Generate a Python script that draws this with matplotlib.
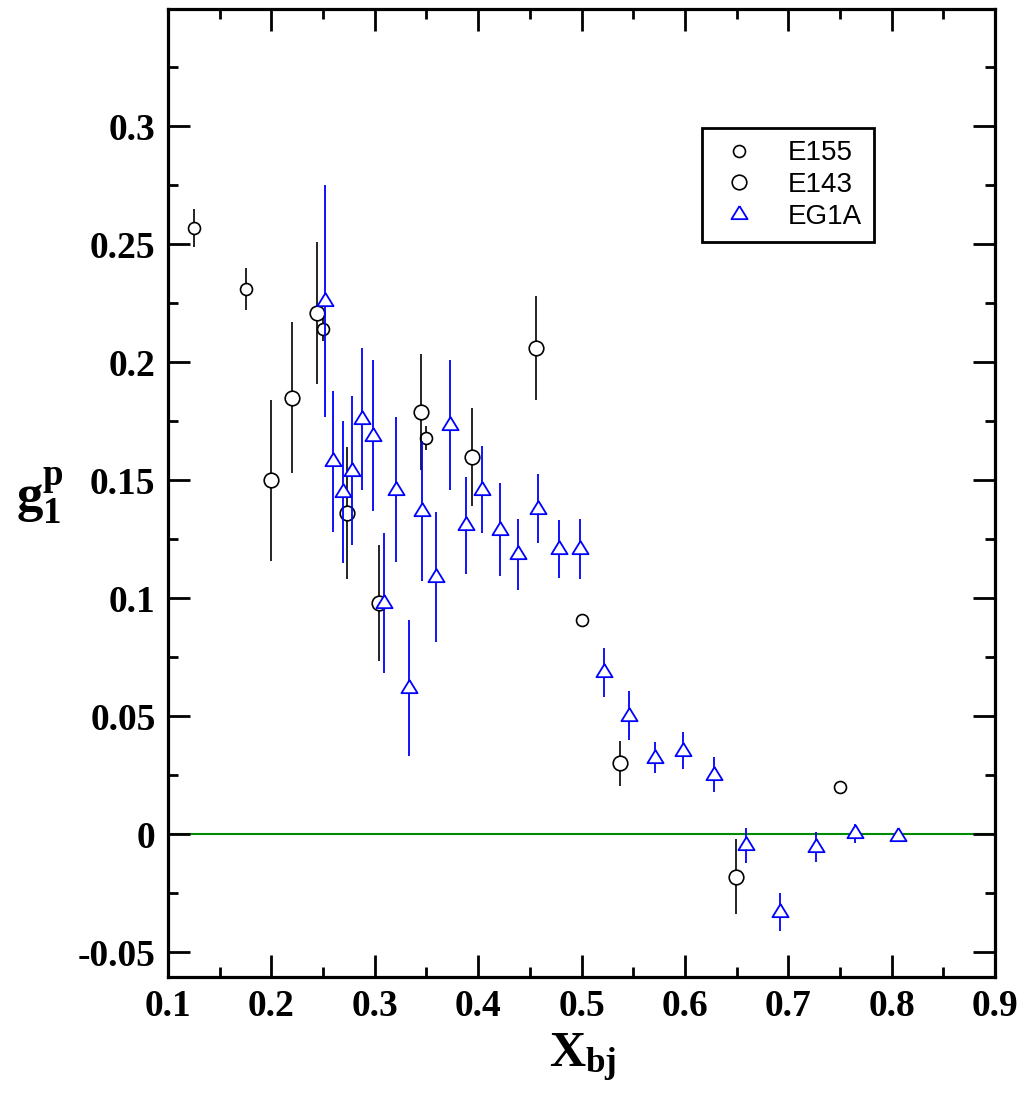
"""
g1p_vs_xbj.py

Proton spin structure function g1 versus Bjorken x, comparing
E155, E143 and EG1A data points with their error bars.
"""

import numpy as np
import matplotlib
matplotlib.use('Agg')
import matplotlib.pyplot as plt
from matplotlib.ticker import MultipleLocator, FuncFormatter

plt.rcParams['mathtext.fontset'] = 'custom'
plt.rcParams['mathtext.bf'] = 'Liberation Serif:bold'
plt.rcParams['mathtext.rm'] = 'Liberation Serif'

# E155
x_e155 = [0.125, 0.175, 0.25, 0.35, 0.50, 0.75]
g1_e155 = [0.257, 0.231, 0.214, 0.168, 0.091, 0.020]
err_e155 = [0.008, 0.009, 0.005, 0.005, 0.002, 0.002]

# E143
x_e143 = [0.200, 0.220, 0.244, 0.273, 0.304, 0.345, 0.394, 0.456, 0.537, 0.649]
g1_e143 = [0.150, 0.185, 0.221, 0.136, 0.098, 0.179, 0.160, 0.206, 0.030, -0.018]
err_e143 = [0.034, 0.032, 0.030, 0.028, 0.0245, 0.0244, 0.0207, 0.022, 0.0096, 0.016]

# EG1A
x_eg1a = [0.252, 0.260, 0.269, 0.278, 0.288, 0.2985, 0.309, 0.321, 0.333, 0.3457,
          0.359, 0.373, 0.388, 0.404, 0.421, 0.439, 0.458, 0.478, 0.499, 0.522,
          0.546, 0.571, 0.5985, 0.628, 0.659, 0.692, 0.727, 0.765, 0.806]
g1_eg1a = [0.226, 0.158, 0.145, 0.154, 0.176, 0.169, 0.098, 0.146, 0.062, 0.137,
           0.109, 0.1735, 0.131, 0.146, 0.129, 0.1186, 0.138, 0.121, 0.121, 0.0687,
           0.0503, 0.0325, 0.0354, 0.0252, -0.0046, -0.0328, -0.0054, 0.0004, -0.0006]
err_eg1a = [0.049, 0.030, 0.030, 0.0316, 0.030, 0.032, 0.0295, 0.0307, 0.029, 0.0296,
            0.0277, 0.0274, 0.0205, 0.0184, 0.0197, 0.0152, 0.0145, 0.0122, 0.0127, 0.0104,
            0.0104, 0.0067, 0.0078, 0.0074, 0.0074, 0.0081, 0.0062, 0.0039, 0.001]

W, H = 1027, 1094
fig = plt.figure(figsize=(W / 100, H / 100), dpi=100)
ax = fig.add_axes([168 / W, 1 - 977 / H, (995 - 168) / W, (977 - 8.5) / H])

ax.axhline(0, color='#008b00', lw=1.5, zorder=1)

# equilateral triangle like the xmgrace symbol
tri = [(0, 1), (-0.95, -0.55), (0.95, -0.55), (0, 1)]

ax.errorbar(x_e155, g1_e155, yerr=err_e155, fmt='none', ecolor='black',
            elinewidth=1.2, capsize=0, zorder=2)
ax.plot(x_e155, g1_e155, 'o', ms=8.6, mfc='white', mec='black', mew=1.2,
        label='E155', zorder=3)

ax.errorbar(x_e143, g1_e143, yerr=err_e143, fmt='none', ecolor='black',
            elinewidth=1.2, capsize=0, zorder=4)
ax.plot(x_e143, g1_e143, 'o', ms=10.5, mfc='white', mec='black', mew=1.2,
        label='E143', zorder=5)

ax.errorbar(x_eg1a, g1_eg1a, yerr=err_eg1a, fmt='none', ecolor='blue',
            elinewidth=1.3, capsize=0, zorder=6)
ax.plot(x_eg1a, g1_eg1a, linestyle='none', marker=tri, ms=12.2, mfc='white',
        mec='blue', mew=1.3, label='EG1A', zorder=7)

ax.set_xlim(0.1, 0.9)
ax.set_ylim(-0.0605, 0.35)
ax.set_xticks(np.arange(0.1, 0.91, 0.1))
ax.set_yticks(np.arange(-0.05, 0.301, 0.05))
ax.xaxis.set_minor_locator(MultipleLocator(0.05))
ax.yaxis.set_minor_locator(MultipleLocator(0.025))
fmt = FuncFormatter(lambda v, p: '%g' % round(v, 3))
ax.xaxis.set_major_formatter(fmt)
ax.yaxis.set_major_formatter(fmt)

ax.tick_params(which='both', direction='in', top=True, right=True, width=2.0)
ax.tick_params(which='major', length=15.5, pad=9)
ax.tick_params(which='minor', length=7)
for lab in ax.get_xticklabels() + ax.get_yticklabels():
    lab.set_fontfamily('Liberation Serif')
    lab.set_fontweight('bold')
    lab.set_fontsize(27)
for sp in ax.spines.values():
    sp.set_linewidth(2.3)

fig.text(40 / W, 1 - 496 / H, r'$\mathbf{g_1^p}$', fontsize=38,
         ha='center', va='center')
fig.text(583 / W, 1 - 1058 / H, r'$\mathbf{X_{bj}}$', fontsize=36,
         ha='center', va='center')

leg = ax.legend(loc='upper left', bbox_to_anchor=(701.7 / W, 1 - 128 / H),
                bbox_transform=fig.transFigure, borderaxespad=0,
                prop={'family': 'Liberation Sans', 'size': 20},
                fancybox=False, framealpha=1, edgecolor='black',
                borderpad=0.45, handlelength=1.8, handletextpad=0.84,
                labelspacing=0.2)
leg.get_frame().set_linewidth(2.0)

fig.savefig('out.png', dpi=100)
